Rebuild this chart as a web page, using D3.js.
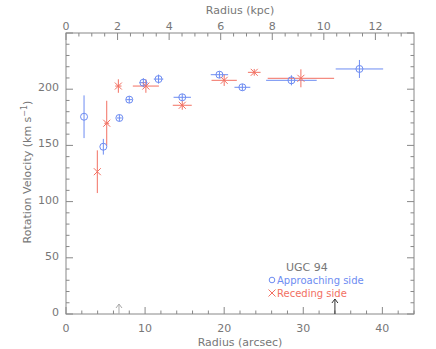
<!DOCTYPE html>
<html>
<head>
<meta charset="utf-8">
<script src="https://cdn.jsdelivr.net/npm/d3@7"></script>
<style>
  body { margin: 0; background: #fff; }
  text { font-family: "DejaVu Sans", sans-serif; fill: #777; }
</style>
</head>
<body>
<div id="chart"></div>
<script>
// approaching side (blue circles)
const apprR    = [2.28, 4.72, 6.75, 8.0, 9.78, 11.7, 14.7, 19.4, 22.3, 28.5, 37.1];
const apprV    = [175.5, 148.8, 174.4, 190.7, 205.8, 209, 192.8, 212.9, 201.7, 207.9, 218];
const apprRErr = [0, 0, 0.3, 0.4, 0.5, 0.6, 1.1, 1.1, 1.0, 3.2, 3.0];
const apprVErr = [19, 7, 3, 3, 4, 4, 3, 3, 3, 4.5, 8];

// receding side (red crosses)
const recR    = [3.96, 5.15, 6.62, 10.1, 14.7, 20.0, 23.8, 29.7];
const recV    = [126.6, 169.7, 202.8, 202.8, 185.7, 207.9, 215, 209.7];
const recRErr = [0, 0.3, 0.4, 1.65, 1.2, 1.6, 0.8, 4.2];
const recVErr = [19, 20, 6, 6, 4, 5, 3, 8];

// arrows along the bottom axis
const arrowR = [6.7, 34];
const arrowColor = ["#aaa", "#333"];

const arcsecPerKpc = 3.26;
const xTicks = [0, 10, 20, 30, 40];
const yTicks = [0, 50, 100, 150, 200];
const kpcTicks = [0, 2, 4, 6, 8, 10, 12];

const width = 436, height = 349;
const m = { left: 66, right: 22, top: 33, bottom: 35 };
const blue = "#6d8cf2", red = "#f27062", axisCol = "#888";

const svg = d3.select("#chart").append("svg")
    .attr("width", width).attr("height", height);

const x = d3.scaleLinear().domain([0, 44]).range([m.left, width - m.right]);
const y = d3.scaleLinear().domain([0, 250]).range([height - m.bottom, m.top]);
const xk = d3.scaleLinear().domain([0, 44 / arcsecPerKpc]).range([m.left, width - m.right]);

// frame + ticks, drawn by hand (inward ticks like IDL)
const g = svg.append("g").attr("stroke", axisCol).attr("stroke-width", 1).attr("fill", "none");
g.append("rect")
    .attr("x", x(0)).attr("y", y(250))
    .attr("width", x(44) - x(0)).attr("height", y(0) - y(250));

const bx = d3.range(0, 44.01, 2);
g.selectAll(".bt").data(bx).enter().append("line")
    .attr("x1", d => x(d)).attr("x2", d => x(d))
    .attr("y1", y(0)).attr("y2", d => y(0) - (d % 10 === 0 ? 7 : 3.5));

const tk = d3.range(0, 13.5, 0.5);
g.selectAll(".tt").data(tk).enter().append("line")
    .attr("x1", d => xk(d)).attr("x2", d => xk(d))
    .attr("y1", y(250)).attr("y2", d => y(250) + (d % 2 === 0 ? 7 : 3.5));

const ly = d3.range(0, 250.01, 10);
g.selectAll(".lt").data(ly).enter().append("line")
    .attr("y1", d => y(d)).attr("y2", d => y(d))
    .attr("x1", x(0)).attr("x2", d => x(0) + (d % 50 === 0 ? 7 : 3.5));
g.selectAll(".rt").data(ly).enter().append("line")
    .attr("y1", d => y(d)).attr("y2", d => y(d))
    .attr("x1", x(44)).attr("x2", d => x(44) - (d % 50 === 0 ? 7 : 3.5));

// tick labels
svg.selectAll(".xl").data(xTicks).enter().append("text")
    .attr("x", d => x(d)).attr("y", y(0) + 18)
    .attr("text-anchor", "middle").style("font-size", "11px").text(d => d);
svg.selectAll(".kl").data(kpcTicks).enter().append("text")
    .attr("x", d => xk(d)).attr("y", y(250) - 3)
    .attr("text-anchor", "middle").style("font-size", "11px").text(d => d);
svg.selectAll(".yl").data(yTicks).enter().append("text")
    .attr("x", x(0) - 7).attr("y", d => y(d) + 2)
    .attr("text-anchor", "end").style("font-size", "11px").text(d => d);

// axis titles
svg.append("text").attr("x", 240).attr("y", 346).attr("text-anchor", "middle")
    .style("font-size", "11px").text("Radius (arcsec)");
svg.append("text").attr("x", 240).attr("y", 14).attr("text-anchor", "middle")
    .style("font-size", "11px").text("Radius (kpc)");
const yt = svg.append("text")
    .attr("transform", "translate(31,172) rotate(-90)")
    .attr("text-anchor", "middle").style("font-size", "11px");
yt.append("tspan").text("Rotation Velocity (km s");
yt.append("tspan").attr("dy", -4).style("font-size", "8px").text("\u22121");
yt.append("tspan").attr("dy", 4).text(")");

// error bars + symbols
function errBars(rs, vs, re, ve, col) {
  const eb = svg.append("g").attr("stroke", col).attr("stroke-width", 1);
  rs.forEach((r, i) => {
    eb.append("line").attr("x1", x(r)).attr("x2", x(r))
      .attr("y1", y(vs[i] - ve[i])).attr("y2", y(vs[i] + ve[i]));
    if (re[i] > 0) {
      eb.append("line").attr("x1", x(r - re[i])).attr("x2", x(r + re[i]))
        .attr("y1", y(vs[i])).attr("y2", y(vs[i]));
    }
  });
}
errBars(apprR, apprV, apprRErr, apprVErr, blue);
errBars(recR, recV, recRErr, recVErr, red);

svg.append("g").selectAll("circle").data(apprR).enter().append("circle")
    .attr("cx", d => x(d)).attr("cy", (d, i) => y(apprV[i])).attr("r", 3.5)
    .attr("fill", "none").attr("stroke", blue).attr("stroke-width", 1);

const s = 3.5;
svg.append("g").selectAll("path").data(recR).enter().append("path")
    .attr("d", (d, i) => {
      const cx = x(d), cy = y(recV[i]);
      return `M${cx - s},${cy - s}L${cx + s},${cy + s}M${cx - s},${cy + s}L${cx + s},${cy - s}`;
    })
    .attr("stroke", red).attr("stroke-width", 1).attr("fill", "none");

// arrows
arrowR.forEach((r, i) => {
  const top = i === 0 ? y(0) - 10 : y(0) - 15;
  svg.append("path")
    .attr("d", `M${x(r)},${y(0)}L${x(r)},${top}M${x(r) - 3},${top + 4}L${x(r)},${top}L${x(r) + 3},${top + 4}`)
    .attr("stroke", arrowColor[i]).attr("fill", "none").attr("stroke-width", 1);
});

// legend
svg.append("text").attr("x", 286).attr("y", 271).style("font-size", "11px").text("UGC 94");
svg.append("circle").attr("cx", 272).attr("cy", 280).attr("r", 2.8)
    .attr("fill", "none").attr("stroke", blue);
svg.append("text").attr("x", 277).attr("y", 283.5).style("font-size", "10px")
    .style("fill", blue).text("Approaching side");
svg.append("path").attr("d", "M268.5,289.5L275.5,296.5M268.5,296.5L275.5,289.5")
    .attr("stroke", red).attr("fill", "none");
svg.append("text").attr("x", 277).attr("y", 296.5).style("font-size", "10px")
    .style("fill", red).text("Receding side");
</script>
</body>
</html>
